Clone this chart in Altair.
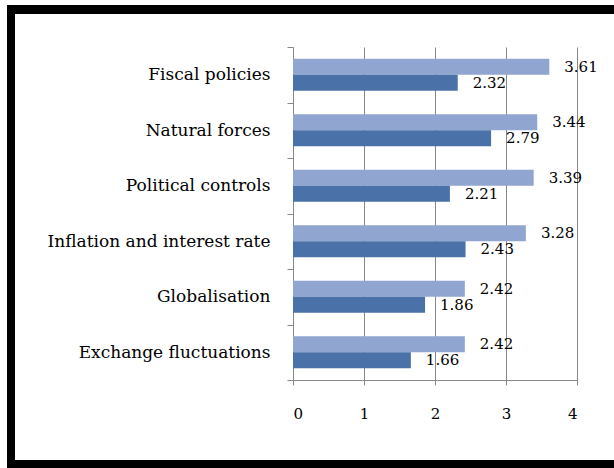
import altair as alt
import pandas as pd

categories = ["Fiscal policies", "Natural forces", "Political controls",
              "Inflation and interest rate", "Globalisation", "Exchange fluctuations"]
series_names = ["Series 1", "Series 2"]
series1 = [3.61, 3.44, 3.39, 3.28, 2.42, 2.42]
series2 = [2.32, 2.79, 2.21, 2.43, 1.86, 1.66]
x_ticks = [0, 1, 2, 3, 4]
colors = ["#91A5D1", "#4A72A8"]

rows = []
for c, a, b in zip(categories, series1, series2):
    rows.append({"category": c, "series": series_names[0], "value": a})
    rows.append({"category": c, "series": series_names[1], "value": b})
df = pd.DataFrame(rows)

FONT = "DejaVu Serif"
GRAY = "#878787"

y_enc = alt.Y("category:N", sort=categories, title=None,
              scale=alt.Scale(paddingInner=0, paddingOuter=0),
              axis=alt.Axis(tickBand="extent", domainColor=GRAY, tickColor=GRAY,
                            tickSize=6, labelPadding=17, labelFont=FONT,
                            labelFontSize=17, labelColor="black", grid=False,
                            labelLimit=300))
x_enc = alt.X("value:Q", title=None,
              scale=alt.Scale(domain=[0, 4], nice=False),
              axis=alt.Axis(values=x_ticks, grid=True, gridColor=GRAY,
                            domainColor=GRAY, tickColor=GRAY, tickSize=5,
                            labelPadding=21, labelFont=FONT, labelFontSize=15,
                            labelColor="black", format="d"))
yoff = alt.YOffset("series:N", sort=series_names,
                   scale=alt.Scale(paddingOuter=0.73, paddingInner=0))

bars = alt.Chart(df).mark_bar().encode(
    y=y_enc, x=x_enc, yOffset=yoff,
    color=alt.Color("series:N", sort=series_names,
                    scale=alt.Scale(domain=series_names, range=colors), legend=None),
)

labels = alt.Chart(df).mark_text(align="left", baseline="middle", dx=15,
                                 font=FONT, fontSize=15, color="black").encode(
    y=alt.Y("category:N", sort=categories), x="value:Q", yOffset=yoff,
    text=alt.Text("value:Q", format=".2f"),
)

frame_df = pd.DataFrame({"k": [0]})
left_bar = alt.Chart(frame_df).mark_rect(color="black").encode(
    x=alt.value(-286), x2=alt.value(-278), y=alt.value(-42), y2=alt.value(421))
top_bar = alt.Chart(frame_df).mark_rect(color="black").encode(
    x=alt.value(-286), x2=alt.value(321), y=alt.value(-42), y2=alt.value(-33))
bottom_bar = alt.Chart(frame_df).mark_rect(color="black").encode(
    x=alt.value(-286), x2=alt.value(321), y=alt.value(413), y2=alt.value(421))

chart = alt.layer(bars, labels, left_bar, top_bar, bottom_bar).properties(
    width=284, height=333,
    autosize=alt.AutoSizeParams(type="none"),
    padding={"left": 293, "top": 47, "right": 37, "bottom": 88},
    background="white",
).configure_view(stroke=None)

chart.save("out.html", embed_options={"renderer": "svg", "actions": False})
